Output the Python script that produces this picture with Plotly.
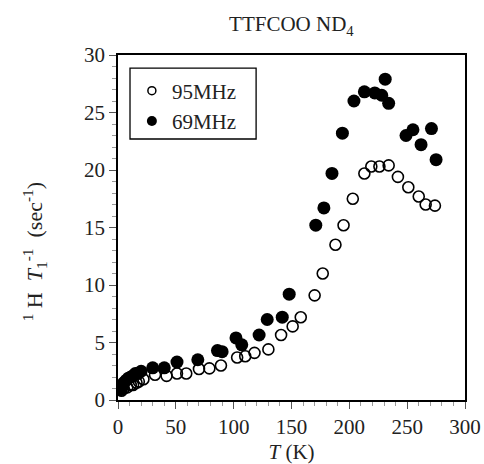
import plotly.graph_objects as go

# 69 MHz (filled)
t69 = [2, 3, 4, 5, 7, 9, 11, 13, 15, 17, 20, 30, 40, 51, 69, 86, 90, 102, 107, 122, 129, 142, 148,
       171, 178, 185, 194, 204, 213, 222, 228, 231, 234, 249, 255, 262, 271, 275]
r69 = [0.9, 1.1, 1.3, 1.5, 1.7, 1.9, 2.0, 2.1, 2.3, 2.3, 2.5, 2.8, 2.8, 3.3, 3.5, 4.3, 4.2, 5.4, 4.8, 5.65, 7.0, 7.2, 9.2,
       15.2, 16.7, 19.7, 23.2, 26.0, 26.8, 26.7, 26.5, 27.9, 25.8, 23.0, 23.5, 22.2, 23.6, 20.9]

# 95 MHz (open)
t95 = [3, 5, 8, 11, 13, 16, 18, 22, 32, 42, 51, 59, 70, 79, 89, 103, 110, 118, 130, 141, 151, 158,
       170, 177, 188, 195, 203, 213, 219, 226, 234, 242, 251, 260, 266, 274]
r95 = [0.8, 1.0, 1.1, 1.3, 1.3, 1.5, 1.6, 1.8, 2.2, 2.1, 2.3, 2.3, 2.7, 2.75, 3.0, 3.7, 3.8, 4.1, 4.4, 5.65, 6.4, 7.2,
       9.1, 11.0, 13.5, 15.2, 17.5, 19.7, 20.3, 20.3, 20.4, 19.4, 18.5, 17.7, 17.0, 16.9]

x_ticks = [0, 50, 100, 150, 200, 250, 300]
y_ticks = [0, 5, 10, 15, 20, 25, 30]

FONT = "Liberation Serif"
NB = "\u00a0"

fig = go.Figure()
fig.add_trace(go.Scatter(x=t95, y=r95, mode="markers", showlegend=False,
                         marker=dict(symbol="circle-open", size=11, color="black", line=dict(width=1.6))))
fig.add_trace(go.Scatter(x=t69, y=r69, mode="markers", showlegend=False,
                         marker=dict(symbol="circle", size=13, color="black")))
# legend entries
fig.add_trace(go.Scatter(x=[None], y=[None], mode="markers", name="95MHz",
                         marker=dict(symbol="circle-open", size=8, color="black", line=dict(width=1.5))))
fig.add_trace(go.Scatter(x=[None], y=[None], mode="markers", name="69MHz",
                         marker=dict(symbol="circle", size=10, color="black")))

axis_common = dict(showline=True, linecolor="black", linewidth=1.5, mirror=True,
                   ticks="outside", ticklen=7, tickwidth=1.2, tickcolor="#555",
                   showgrid=False, zeroline=False, automargin=False,
                   tickfont=dict(family=FONT, size=21, color="#222"))

fig.update_xaxes(range=[0, 300], tickvals=x_ticks,
                 minor=dict(ticks="outside", ticklen=4, tickwidth=1, tickcolor="#999", dtick=10),
                 title=dict(text="<i>T</i> (K)", font=dict(family=FONT, size=21, color="#222")),
                 **axis_common)
fig.update_yaxes(range=[0, 30], tickvals=y_ticks,
                 minor=dict(ticks="outside", ticklen=4, tickwidth=1, tickcolor="#999", dtick=1),
                 **axis_common)

# y-axis title as rotated annotation
ytitle = ("<sup>1</sup>" + NB + "H" + NB + NB + "<i>T</i><sub>1</sub><sup>-1</sup>" + NB + NB +
          "(sec<sup>-1</sup>)")
fig.add_annotation(text=ytitle,
                   xref="paper", yref="paper", x=-0.24, y=0.43, xanchor="center", yanchor="middle",
                   textangle=-90, showarrow=False,
                   font=dict(family=FONT, size=22, color="#222"))

# legend frame
fig.add_shape(type="rect", xref="paper", yref="paper", x0=0.0346, x1=0.398, y0=0.7565, y1=0.962,
              line=dict(color="black", width=1.3), fillcolor="rgba(0,0,0,0)", layer="above")

fig.update_layout(
    width=484, height=464,
    margin=dict(l=118, r=19, t=55, b=64),
    paper_bgcolor="white", plot_bgcolor="white",
    title=dict(text="TTFCOO ND<sub>4</sub>", x=0.602, xanchor="center", y=0.948, yanchor="middle",
               font=dict(family=FONT, size=21, color="#222")),
    legend=dict(x=0.04, y=0.955, xanchor="left", yanchor="top",
                borderwidth=0, bgcolor="rgba(0,0,0,0)",
                font=dict(family=FONT, size=21, color="#222"),
                itemsizing="trace", tracegroupgap=0),
    showlegend=True,
)

fig.write_html("out.html", config={"displayModeBar": False},
               post_script="document.body.style.margin='0';document.body.style.overflow='hidden';")
